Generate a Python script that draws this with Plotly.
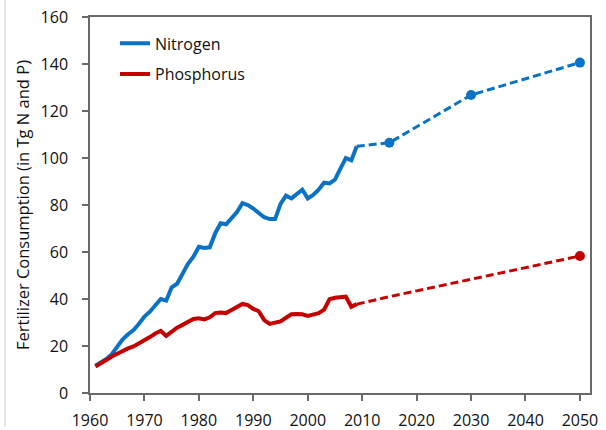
import plotly.graph_objects as go

# Historical years 1961-2009
hist_years = list(range(1961, 2010))

nitrogen = [11.6, 13.0, 14.5, 16.5, 19.5, 22.8, 25.0, 26.8, 29.5, 32.5,
            34.6, 37.0, 40.0, 39.3, 45.0, 46.5, 50.5, 55.0, 58.0, 62.2,
            61.7, 62.0, 68.0, 72.2, 71.8, 74.3, 77.0, 80.8, 80.0, 78.5,
            76.5, 74.8, 74.0, 74.0, 80.5, 84.0, 82.8, 84.5, 86.5, 82.8,
            84.3, 86.5, 89.5, 89.2, 90.8, 95.5, 100.0, 99.0, 105.0]

phosphorus = [11.3, 12.5, 14.0, 15.5, 16.8, 18.0, 19.0, 19.8, 21.0, 22.2,
              23.8, 25.3, 26.4, 24.3, 26.2, 27.8, 29.0, 30.5, 31.5, 31.8,
              31.3, 32.2, 34.0, 34.3, 34.0, 35.3, 36.5, 37.9, 37.4, 35.8,
              34.8, 31.0, 29.4, 30.0, 30.5, 32.0, 33.5, 33.6, 33.5, 32.8,
              33.2, 34.0, 35.5, 39.9, 40.5, 40.8, 41.0, 36.7, 37.8]

proj_years = [2009, 2015, 2030, 2050]
nitrogen_proj = [105.0, 106.5, 126.8, 140.6]
phosphorus_proj = [37.8, 41.0, 48.4, 58.3]

x_ticks = [1960, 1970, 1980, 1990, 2000, 2010, 2020, 2030, 2040, 2050]
y_ticks = [0, 20, 40, 60, 80, 100, 120, 140, 160]

BLUE = "#0A72C4"
RED = "#C40000"
FONT = "'Open Sans', sans-serif"
TXT = "#111111"

fig = go.Figure()

fig.add_trace(go.Scatter(x=hist_years, y=nitrogen, mode="lines", name="Nitrogen",
                         legendgroup="N", line=dict(color=BLUE, width=4)))
fig.add_trace(go.Scatter(x=proj_years, y=nitrogen_proj, mode="lines+markers",
                         showlegend=False, legendgroup="N",
                         line=dict(color=BLUE, width=3, dash="8px,4px"),
                         marker=dict(color=BLUE, size=[0, 10, 10, 10], opacity=1,
                                     line=dict(width=0))))
fig.add_trace(go.Scatter(x=hist_years, y=phosphorus, mode="lines", name="Phosphorus",
                         legendgroup="P", line=dict(color=RED, width=4)))
fig.add_trace(go.Scatter(x=proj_years, y=phosphorus_proj, mode="lines+markers",
                         showlegend=False, legendgroup="P",
                         line=dict(color=RED, width=3, dash="8px,4px"),
                         marker=dict(color=RED, size=[0, 0, 0, 10], opacity=1,
                                     line=dict(width=0))))

axis_line = "#6a6a6a"

fig.update_layout(
    width=606, height=430,
    margin=dict(l=90, r=16, t=17, b=37, autoexpand=False),
    paper_bgcolor="white", plot_bgcolor="white",
    font=dict(family=FONT, size=15, color=TXT),
    showlegend=True,
    legend=dict(x=0.05, y=0.975, xanchor="left", yanchor="top",
                bgcolor="rgba(0,0,0,0)", traceorder="grouped",
                tracegroupgap=7, font=dict(size=16, color=TXT)),
    xaxis=dict(range=[1960, 2051.85], tickvals=x_ticks, ticktext=[str(v) for v in x_ticks],
               automargin=False,
               showgrid=False, zeroline=False, showline=True, linecolor=axis_line,
               linewidth=1.5, mirror=True, ticks="outside", ticklen=6, tickwidth=1.5,
               tickcolor=axis_line, ticklabelstandoff=6,
               tickfont=dict(size=16, color=TXT)),
    yaxis=dict(range=[0, 160], tickvals=y_ticks, showgrid=False, zeroline=False,
               automargin=False,
               showline=True, linecolor=axis_line, linewidth=1.5, mirror=True,
               ticks="outside", ticklen=6, tickwidth=1.5, tickcolor=axis_line,
               ticklabelstandoff=11, tickfont=dict(size=16, color=TXT),
               title=dict(text="Fertilizer Consumption (in Tg N and P)",
                          font=dict(size=16.5, color=TXT), standoff=7)),
    shapes=[dict(type="line", xref="paper", yref="paper", x0=-0.17, x1=-0.17,
                 y0=-0.09, y1=1.05, line=dict(color="#cccccc", width=1))],
)

fig.write_html("out.html", config={"displayModeBar": False},
               post_script="document.body.style.margin='0';document.body.style.overflow='hidden';")
